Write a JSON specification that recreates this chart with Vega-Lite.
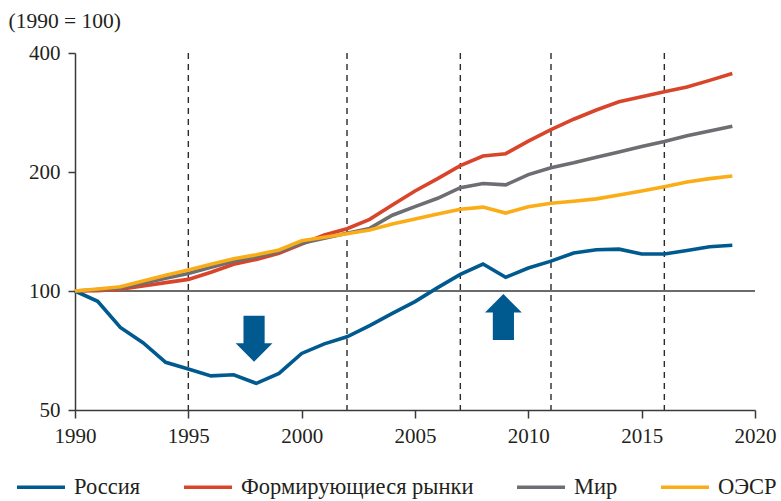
{
  "$schema": "https://vega.github.io/schema/vega-lite/v6.json",
  "width": 680,
  "height": 357,
  "autosize": {"type": "none"},
  "padding": {"left": 75, "top": 53, "right": 26, "bottom": 91},
  "background": "white",
  "config": {
    "view": {"stroke": null},
    "axis": {"labelColor": "#231F20", "titleColor": "#231F20", "domainColor": "#3a3a3a", "tickColor": "#3a3a3a", "domainWidth": 1.5, "tickWidth": 1.5, "grid": false},
    "legend": {"labelColor": "#231F20"}
  },
  "datasets": {
    "lines": [
      {"year": 1990, "value": 100, "series": "Россия"},
      {"year": 1991, "value": 94.2, "series": "Россия"},
      {"year": 1992, "value": 80.9, "series": "Россия"},
      {"year": 1993, "value": 74, "series": "Россия"},
      {"year": 1994, "value": 66, "series": "Россия"},
      {"year": 1995, "value": 63.5, "series": "Россия"},
      {"year": 1996, "value": 61, "series": "Россия"},
      {"year": 1997, "value": 61.4, "series": "Россия"},
      {"year": 1998, "value": 58.4, "series": "Россия"},
      {"year": 1999, "value": 61.9, "series": "Россия"},
      {"year": 2000, "value": 69.5, "series": "Россия"},
      {"year": 2001, "value": 73.5, "series": "Россия"},
      {"year": 2002, "value": 76.6, "series": "Россия"},
      {"year": 2003, "value": 81.7, "series": "Россия"},
      {"year": 2004, "value": 87.8, "series": "Россия"},
      {"year": 2005, "value": 94, "series": "Россия"},
      {"year": 2006, "value": 102, "series": "Россия"},
      {"year": 2007, "value": 110.2, "series": "Россия"},
      {"year": 2008, "value": 117, "series": "Россия"},
      {"year": 2009, "value": 108.3, "series": "Россия"},
      {"year": 2010, "value": 114.3, "series": "Россия"},
      {"year": 2011, "value": 119, "series": "Россия"},
      {"year": 2012, "value": 124.8, "series": "Россия"},
      {"year": 2013, "value": 127.2, "series": "Россия"},
      {"year": 2014, "value": 127.6, "series": "Россия"},
      {"year": 2015, "value": 124, "series": "Россия"},
      {"year": 2016, "value": 124, "series": "Россия"},
      {"year": 2017, "value": 126.6, "series": "Россия"},
      {"year": 2018, "value": 129.4, "series": "Россия"},
      {"year": 2019, "value": 130.5, "series": "Россия"},
      {"year": 1990, "value": 100, "series": "Формирующиеся рынки"},
      {"year": 1991, "value": 100.2, "series": "Формирующиеся рынки"},
      {"year": 1992, "value": 101, "series": "Формирующиеся рынки"},
      {"year": 1993, "value": 103, "series": "Формирующиеся рынки"},
      {"year": 1994, "value": 105, "series": "Формирующиеся рынки"},
      {"year": 1995, "value": 107, "series": "Формирующиеся рынки"},
      {"year": 1996, "value": 111.5, "series": "Формирующиеся рынки"},
      {"year": 1997, "value": 116.8, "series": "Формирующиеся рынки"},
      {"year": 1998, "value": 120.2, "series": "Формирующиеся рынки"},
      {"year": 1999, "value": 124.5, "series": "Формирующиеся рынки"},
      {"year": 2000, "value": 131.5, "series": "Формирующиеся рынки"},
      {"year": 2001, "value": 138.6, "series": "Формирующиеся рынки"},
      {"year": 2002, "value": 143.7, "series": "Формирующиеся рынки"},
      {"year": 2003, "value": 151.8, "series": "Формирующиеся рынки"},
      {"year": 2004, "value": 165, "series": "Формирующиеся рынки"},
      {"year": 2005, "value": 179, "series": "Формирующиеся рынки"},
      {"year": 2006, "value": 192.5, "series": "Формирующиеся рынки"},
      {"year": 2007, "value": 207.5, "series": "Формирующиеся рынки"},
      {"year": 2008, "value": 219.5, "series": "Формирующиеся рынки"},
      {"year": 2009, "value": 222.5, "series": "Формирующиеся рынки"},
      {"year": 2010, "value": 239.5, "series": "Формирующиеся рынки"},
      {"year": 2011, "value": 256, "series": "Формирующиеся рынки"},
      {"year": 2012, "value": 272, "series": "Формирующиеся рынки"},
      {"year": 2013, "value": 287, "series": "Формирующиеся рынки"},
      {"year": 2014, "value": 301, "series": "Формирующиеся рынки"},
      {"year": 2015, "value": 310, "series": "Формирующиеся рынки"},
      {"year": 2016, "value": 319, "series": "Формирующиеся рынки"},
      {"year": 2017, "value": 328, "series": "Формирующиеся рынки"},
      {"year": 2018, "value": 341, "series": "Формирующиеся рынки"},
      {"year": 2019, "value": 355, "series": "Формирующиеся рынки"},
      {"year": 1990, "value": 100, "series": "Мир"},
      {"year": 1991, "value": 100.8, "series": "Мир"},
      {"year": 1992, "value": 101.8, "series": "Мир"},
      {"year": 1993, "value": 104.6, "series": "Мир"},
      {"year": 1994, "value": 107.7, "series": "Мир"},
      {"year": 1995, "value": 110.8, "series": "Мир"},
      {"year": 1996, "value": 114.8, "series": "Мир"},
      {"year": 1997, "value": 118.9, "series": "Мир"},
      {"year": 1998, "value": 122, "series": "Мир"},
      {"year": 1999, "value": 125.7, "series": "Мир"},
      {"year": 2000, "value": 132, "series": "Мир"},
      {"year": 2001, "value": 136, "series": "Мир"},
      {"year": 2002, "value": 140, "series": "Мир"},
      {"year": 2003, "value": 144, "series": "Мир"},
      {"year": 2004, "value": 155.5, "series": "Мир"},
      {"year": 2005, "value": 163.5, "series": "Мир"},
      {"year": 2006, "value": 171.6, "series": "Мир"},
      {"year": 2007, "value": 182.6, "series": "Мир"},
      {"year": 2008, "value": 187, "series": "Мир"},
      {"year": 2009, "value": 185.5, "series": "Мир"},
      {"year": 2010, "value": 197, "series": "Мир"},
      {"year": 2011, "value": 205, "series": "Мир"},
      {"year": 2012, "value": 211, "series": "Мир"},
      {"year": 2013, "value": 218, "series": "Мир"},
      {"year": 2014, "value": 224.7, "series": "Мир"},
      {"year": 2015, "value": 232, "series": "Мир"},
      {"year": 2016, "value": 239, "series": "Мир"},
      {"year": 2017, "value": 247, "series": "Мир"},
      {"year": 2018, "value": 254, "series": "Мир"},
      {"year": 2019, "value": 261, "series": "Мир"},
      {"year": 1990, "value": 100, "series": "ОЭСР"},
      {"year": 1991, "value": 101.2, "series": "ОЭСР"},
      {"year": 1992, "value": 102.5, "series": "ОЭСР"},
      {"year": 1993, "value": 106, "series": "ОЭСР"},
      {"year": 1994, "value": 109.6, "series": "ОЭСР"},
      {"year": 1995, "value": 113, "series": "ОЭСР"},
      {"year": 1996, "value": 116.8, "series": "ОЭСР"},
      {"year": 1997, "value": 120.7, "series": "ОЭСР"},
      {"year": 1998, "value": 123.5, "series": "ОЭСР"},
      {"year": 1999, "value": 127, "series": "ОЭСР"},
      {"year": 2000, "value": 134, "series": "ОЭСР"},
      {"year": 2001, "value": 136.7, "series": "ОЭСР"},
      {"year": 2002, "value": 139.6, "series": "ОЭСР"},
      {"year": 2003, "value": 142.7, "series": "ОЭСР"},
      {"year": 2004, "value": 147.7, "series": "ОЭСР"},
      {"year": 2005, "value": 152, "series": "ОЭСР"},
      {"year": 2006, "value": 156.6, "series": "ОЭСР"},
      {"year": 2007, "value": 161, "series": "ОЭСР"},
      {"year": 2008, "value": 163, "series": "ОЭСР"},
      {"year": 2009, "value": 157.5, "series": "ОЭСР"},
      {"year": 2010, "value": 163.3, "series": "ОЭСР"},
      {"year": 2011, "value": 166.7, "series": "ОЭСР"},
      {"year": 2012, "value": 168.6, "series": "ОЭСР"},
      {"year": 2013, "value": 171, "series": "ОЭСР"},
      {"year": 2014, "value": 175, "series": "ОЭСР"},
      {"year": 2015, "value": 179, "series": "ОЭСР"},
      {"year": 2016, "value": 183.6, "series": "ОЭСР"},
      {"year": 2017, "value": 188.7, "series": "ОЭСР"},
      {"year": 2018, "value": 192.4, "series": "ОЭСР"},
      {"year": 2019, "value": 195.4, "series": "ОЭСР"}
    ],
    "markers": [
      {"year": 1995}, {"year": 2002}, {"year": 2007}, {"year": 2011}, {"year": 2016}
    ],
    "base": [{"value": 100}],
    "down": [{"year": 1997.9, "value": 75.7}],
    "up": [{"year": 2008.9, "value": 85.9}]
  },
  "layer": [
    {
      "data": {"name": "markers"},
      "mark": {"type": "rule", "color": "#2a2a2a", "strokeWidth": 1.4, "strokeDash": [6, 5]},
      "encoding": {
        "x": {"field": "year", "type": "quantitative", "scale": {"domain": [1990, 2020], "nice": false, "zero": false}}
      }
    },
    {
      "data": {"name": "base"},
      "mark": {"type": "rule", "color": "#3a3a3a", "strokeWidth": 1.5},
      "encoding": {
        "y": {"field": "value", "type": "quantitative", "scale": {"type": "log", "domain": [50, 400], "nice": false}}
      }
    },
    {
      "data": {"name": "lines"},
      "mark": {"type": "line", "strokeWidth": 3.6, "strokeJoin": "miter", "strokeCap": "butt"},
      "encoding": {
        "x": {
          "field": "year", "type": "quantitative",
          "scale": {"domain": [1990, 2020], "nice": false, "zero": false},
          "axis": {"values": [1990, 1995, 2000, 2005, 2010, 2015, 2020], "format": "d", "title": null, "labelFont": "Times New Roman", "labelFontSize": 21, "tickSize": 8, "labelPadding": 7, "labelFlush": false, "labelOverlap": false}
        },
        "y": {
          "field": "value", "type": "quantitative",
          "scale": {"type": "log", "domain": [50, 400], "nice": false},
          "axis": {
            "values": [50, 100, 200, 400], "format": "d", "labelFont": "Times New Roman", "labelFontSize": 21, "tickSize": 7, "labelPadding": 8, "labelFlush": false, "labelOverlap": false,
            "title": "(1990 = 100)", "titleFont": "Times New Roman", "titleFontSize": 21.5, "titleFontWeight": "normal", "titleAngle": 0,
            "titleAlign": "left", "titleBaseline": "alphabetic", "titleX": -67, "titleY": -26
          }
        },
        "color": {
          "field": "series", "type": "nominal",
          "scale": {"domain": ["Россия", "Формирующиеся рынки", "Мир", "ОЭСР"], "range": ["#005A8F", "#D9452B", "#6D6E71", "#FBAD18"]},
          "legend": {
            "title": null, "orient": "none", "direction": "horizontal", "legendX": -60, "legendY": 408,
            "symbolType": "stroke", "symbolSize": 2304, "symbolStrokeWidth": 3.4, "labelFont": "Times New Roman", "labelFontSize": 22.5, "labelLimit": 0,
            "labelOffset": 7, "columnPadding": 36, "columns": 4
          }
        },
        "order": {"field": "year", "type": "quantitative"}
      }
    },
    {
      "data": {"name": "down"},
      "mark": {"type": "point", "filled": true, "color": "#005A8F", "opacity": 1, "size": 2116, "strokeWidth": 0, "shape": "M-0.46,-1 L0.46,-1 L0.46,0.19 L0.8,0.19 L0,1 L-0.8,0.19 L-0.46,0.19 Z"},
      "encoding": {
        "x": {"field": "year", "type": "quantitative"},
        "y": {"field": "value", "type": "quantitative"}
      }
    },
    {
      "data": {"name": "up"},
      "mark": {"type": "point", "filled": true, "color": "#005A8F", "opacity": 1, "size": 2116, "strokeWidth": 0, "shape": "M0,-1 L0.8,-0.2 L0.46,-0.2 L0.46,1 L-0.46,1 L-0.46,-0.2 L-0.8,-0.2 Z"},
      "encoding": {
        "x": {"field": "year", "type": "quantitative"},
        "y": {"field": "value", "type": "quantitative"}
      }
    }
  ]
}
